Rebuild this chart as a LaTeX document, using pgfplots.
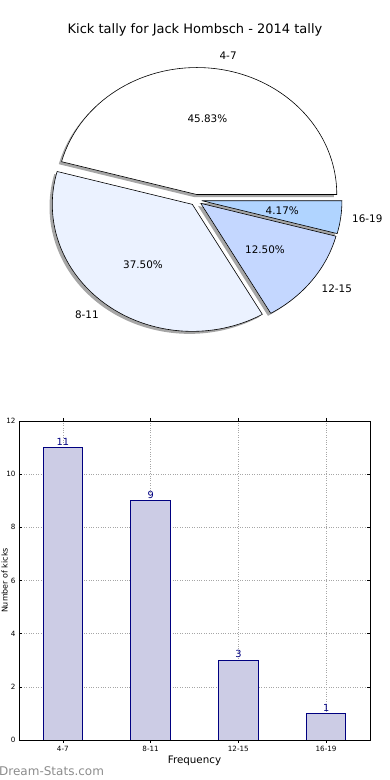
\documentclass[border=0pt]{standalone}
\usepackage{fontspec}
\setmainfont{DejaVu Sans}
\usepackage{pgfplots}
\usepackage{pgfplotstable}
\pgfplotsset{compat=1.18}
\definecolor{barfill}{RGB}{204,204,229}
\definecolor{baredge}{RGB}{0,0,128}
\definecolor{pieA}{RGB}{255,255,255}
\definecolor{pieB}{RGB}{235,242,255}
\definecolor{pieC}{RGB}{196,215,255}
\definecolor{pieD}{RGB}{176,212,255}
\definecolor{wm}{RGB}{140,140,140}

\pgfplotstableread{
idx label count
0 4-7 11
1 8-11 9
2 12-15 3
3 16-19 1
}\tally

\pgfplotstablegetelem{0}{count}\of\tally \edef\cA{\pgfplotsretval}
\pgfplotstablegetelem{1}{count}\of\tally \edef\cB{\pgfplotsretval}
\pgfplotstablegetelem{2}{count}\of\tally \edef\cC{\pgfplotsretval}
\pgfplotstablegetelem{3}{count}\of\tally \edef\cD{\pgfplotsretval}
\pgfmathsetmacro\tot{\cA+\cB+\cC+\cD}
\pgfmathsetmacro\aA{0}
\pgfmathsetmacro\aB{360*\cA/\tot}
\pgfmathsetmacro\aC{\aB+360*\cB/\tot}
\pgfmathsetmacro\aD{\aC+360*\cC/\tot}
\pgfmathsetmacro\aE{360}
\pgfmathsetmacro\pA{100*\cA/\tot}
\pgfmathsetmacro\pB{100*\cB/\tot}
\pgfmathsetmacro\pC{100*\cC/\tot}
\pgfmathsetmacro\pD{100*\cD/\tot}

% centre of pie (196,580) in picture pt, radii 140 x 127, explode 6 x 5.5
\newcommand\wedgecalc[3]{%
  \pgfmathsetmacro\tmpm{(#2+#3)/2}%
  \pgfmathsetmacro\tmpx{196+6*cos(\tmpm)}%
  \pgfmathsetmacro\tmpy{580+5.5*sin(\tmpm)}%
  \expandafter\xdef\csname w#1x\endcsname{\tmpx}%
  \expandafter\xdef\csname w#1y\endcsname{\tmpy}%
  \pgfmathsetmacro\tmp{\tmpx-2.8}\expandafter\xdef\csname w#1sx\endcsname{\tmp}%
  \pgfmathsetmacro\tmp{\tmpy-2.5}\expandafter\xdef\csname w#1sy\endcsname{\tmp}%
  \pgfmathsetmacro\tmp{\tmpx+148*cos(\tmpm)}\expandafter\xdef\csname w#1lx\endcsname{\tmp}%
  \pgfmathsetmacro\tmp{\tmpy+139.7*sin(\tmpm)}\expandafter\xdef\csname w#1ly\endcsname{\tmp}%
  \pgfmathsetmacro\tmp{\tmpx+81*cos(\tmpm)}\expandafter\xdef\csname w#1px\endcsname{\tmp}%
  \pgfmathsetmacro\tmp{\tmpy+76.2*sin(\tmpm)}\expandafter\xdef\csname w#1py\endcsname{\tmp}%
}
\wedgecalc{A}{\aA}{\aB}
\wedgecalc{B}{\aB}{\aC}
\wedgecalc{C}{\aC}{\aD}
\wedgecalc{D}{\aD}{\aE}

\newcommand\pct[1]{\pgfmathprintnumber[fixed,fixed zerofill,precision=2,assume math mode=true]{#1}\%}

\begin{document}
\begin{tikzpicture}
\useasboundingbox (0,0) rectangle (390pt,780pt);
\node[font=\fontsize{13}{15}\selectfont] at (195pt,750pt) {Kick tally for Jack Hombsch - 2014 tally};

% ---------- pie ----------
\begin{axis}[at={(0pt,0pt)}, anchor=south west, scale only axis,
  width=390pt, height=780pt, xmin=0, xmax=390, ymin=0, ymax=780,
  hide axis, clip=false]
\addplot[draw=none, forget plot] coordinates {(0,0)};
\fill[black!35] (axis cs:\wAsx,\wAsy) -- ++(\aA:140pt and 127pt) arc[start angle=\aA, end angle=\aB, x radius=140pt, y radius=127pt] -- cycle;
\fill[black!35] (axis cs:\wBsx,\wBsy) -- ++(\aB:140pt and 127pt) arc[start angle=\aB, end angle=\aC, x radius=140pt, y radius=127pt] -- cycle;
\fill[black!35] (axis cs:\wCsx,\wCsy) -- ++(\aC:140pt and 127pt) arc[start angle=\aC, end angle=\aD, x radius=140pt, y radius=127pt] -- cycle;
\fill[black!35] (axis cs:\wDsx,\wDsy) -- ++(\aD:140pt and 127pt) arc[start angle=\aD, end angle=\aE, x radius=140pt, y radius=127pt] -- cycle;
\filldraw[fill=pieA, draw=black, line width=0.6pt, line join=round] (axis cs:\wAx,\wAy) -- ++(\aA:140pt and 127pt) arc[start angle=\aA, end angle=\aB, x radius=140pt, y radius=127pt] -- cycle;
\filldraw[fill=pieB, draw=black, line width=0.6pt, line join=round] (axis cs:\wBx,\wBy) -- ++(\aB:140pt and 127pt) arc[start angle=\aB, end angle=\aC, x radius=140pt, y radius=127pt] -- cycle;
\filldraw[fill=pieC, draw=black, line width=0.6pt, line join=round] (axis cs:\wCx,\wCy) -- ++(\aC:140pt and 127pt) arc[start angle=\aC, end angle=\aD, x radius=140pt, y radius=127pt] -- cycle;
\filldraw[fill=pieD, draw=black, line width=0.6pt, line join=round] (axis cs:\wDx,\wDy) -- ++(\aD:140pt and 127pt) arc[start angle=\aD, end angle=\aE, x radius=140pt, y radius=127pt] -- cycle;
\node[anchor=west, font=\fontsize{10.4}{12}\selectfont] at (axis cs:\wAlx,\wAly) {4-7};
\node[anchor=east, font=\fontsize{10.4}{12}\selectfont] at (axis cs:\wBlx,\wBly) {8-11};
\node[anchor=west, font=\fontsize{10.4}{12}\selectfont] at (axis cs:\wClx,\wCly) {12-15};
\node[anchor=west, font=\fontsize{10.4}{12}\selectfont] at (axis cs:\wDlx,\wDly) {16-19};
\node[font=\fontsize{10.4}{12}\selectfont] at (axis cs:\wApx,\wApy) {\pct{\pA}};
\node[font=\fontsize{10.4}{12}\selectfont] at (axis cs:\wBpx,\wBpy) {\pct{\pB}};
\node[font=\fontsize{10.4}{12}\selectfont] at (axis cs:\wCpx,\wCpy) {\pct{\pC}};
\node[font=\fontsize{10.4}{12}\selectfont] at (axis cs:\wDpx,\wDpy) {\pct{\pD}};
\end{axis}

% ---------- bars ----------
\begin{axis}[at={(19pt,40pt)}, anchor=south west, scale only axis,
  width=351pt, height=319pt,
  xmin=-0.5, xmax=3.5, ymin=0, ymax=12,
  xtick={0,1,2,3}, xticklabels={4-7,8-11,12-15,16-19},
  ytick={0,2,...,12},
  tick label style={font=\fontsize{7.2}{8}\selectfont},
  /pgf/number format/assume math mode=true,
  grid=major, grid style={black!35, dotted, line width=0.6pt},
  tick align=inside, major tick length=3pt, tick style={black, line width=0.5pt},
  axis line style={line width=0.8pt},
  xlabel={Frequency}, xlabel style={font=\fontsize{10.3}{12}\selectfont, yshift=3pt},
  ylabel={Number of kicks}, ylabel style={font=\fontsize{8}{10}\selectfont, at={(axis description cs:-0.041,0.5)}, anchor=center, inner sep=0pt},
  ybar, bar width=0.45,
  nodes near coords,
  nodes near coords style={font=\fontsize{9.8}{11}\selectfont, color=baredge, inner sep=2pt},
]
\addplot[fill=barfill, draw=baredge, line width=0.8pt] table[x=idx, y=count] {\tally};
\end{axis}

\node[anchor=west, text=wm, font=\fontsize{12}{14}\selectfont, inner sep=0pt] at (-1pt,9pt) {Dream-Stats.com};
\end{tikzpicture}
\end{document}
